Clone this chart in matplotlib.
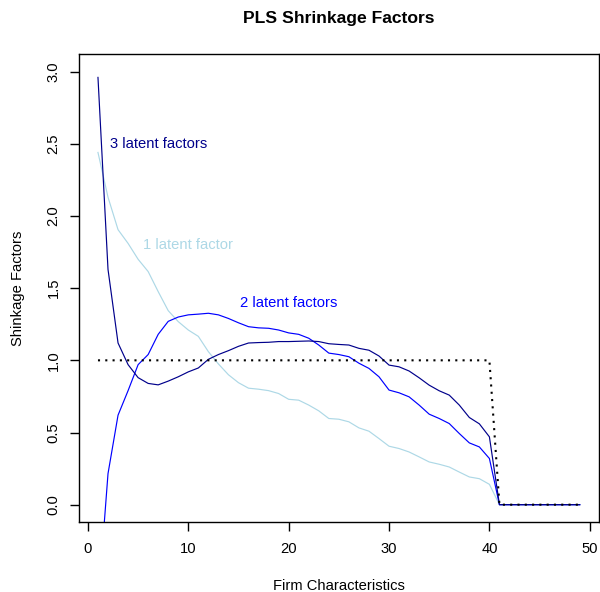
import numpy as np
import matplotlib
matplotlib.use("Agg")
import matplotlib.pyplot as plt

plt.rcParams["font.family"] = ["Liberation Sans", "DejaVu Sans"]

# ---- data ----
firm_chars = np.arange(1, 50)

one_factor = [2.44, 2.13, 1.905, 1.81, 1.70, 1.615, 1.476, 1.344, 1.268, 1.21,
              1.166, 1.06, 0.975, 0.90, 0.845, 0.807, 0.80, 0.79, 0.77, 0.73,
              0.724, 0.69, 0.65, 0.597, 0.592, 0.574, 0.532, 0.509, 0.458, 0.405,
              0.389, 0.365, 0.331, 0.296, 0.28, 0.261, 0.226, 0.192, 0.18, 0.141,
              0, 0, 0, 0, 0, 0, 0, 0, 0]

two_factors = [-0.70, 0.215, 0.62, 0.79, 0.97, 1.04, 1.18, 1.27, 1.30, 1.315,
               1.32, 1.326, 1.315, 1.29, 1.26, 1.233, 1.225, 1.222, 1.21, 1.19,
               1.18, 1.153, 1.106, 1.05, 1.04, 1.025, 0.98, 0.944, 0.886, 0.794,
               0.775, 0.747, 0.69, 0.627, 0.597, 0.562, 0.493, 0.428, 0.40, 0.32,
               0, 0, 0, 0, 0, 0, 0, 0, 0]

three_factors = [2.96, 1.63, 1.12, 0.97, 0.88, 0.84, 0.83, 0.856, 0.886, 0.92,
                 0.947, 1.007, 1.04, 1.067, 1.097, 1.12, 1.123, 1.125, 1.13, 1.13,
                 1.132, 1.134, 1.13, 1.115, 1.11, 1.106, 1.083, 1.07, 1.03, 0.967,
                 0.955, 0.926, 0.879, 0.828, 0.789, 0.759, 0.69, 0.604, 0.56, 0.47,
                 0, 0, 0, 0, 0, 0, 0, 0, 0]

# OLS benchmark (no shrinkage for kept characteristics)
benchmark = [1, 1, 1, 1, 1, 1, 1, 1, 1, 1, 1, 1, 1, 1, 1, 1, 1, 1, 1, 1,
             1, 1, 1, 1, 1, 1, 1, 1, 1, 1, 1, 1, 1, 1, 1, 1, 1, 1, 1, 1,
             0, 0, 0, 0, 0, 0, 0, 0, 0]

x_ticks = [0, 10, 20, 30, 40, 50]
y_ticks = [0.0, 0.5, 1.0, 1.5, 2.0, 2.5, 3.0]
y_tick_labels = ["0.0", "0.5", "1.0", "1.5", "2.0", "2.5", "3.0"]

W, H = 600, 592
fig = plt.figure(figsize=(W / 100, H / 100), dpi=100)
ax = fig.add_axes([78.7 / W, 70 / H, 520.3 / W, 467.7 / H])

lw = 0.85
ax.plot(firm_chars, one_factor, color="lightblue", lw=lw)
ax.plot(firm_chars, two_factors, color="blue", lw=lw)
ax.plot(firm_chars, three_factors, color="darkblue", lw=lw)
ax.plot(firm_chars, benchmark, color="black", lw=1.5, linestyle=(0, (1, 2.5)))

fs = 10.6
ax.text(7, 2.5, "3 latent factors", color="darkblue", fontsize=fs, ha="center", va="center")
ax.text(10, 1.8, "1 latent factor", color="lightblue", fontsize=fs, ha="center", va="center")
ax.text(20, 1.4, "2 latent factors", color="blue", fontsize=fs, ha="center", va="center")

ax.set_xlim(-0.92, 50.92)
ax.set_ylim(-0.12, 3.12)
ax.set_xticks(x_ticks)
ax.set_yticks(y_ticks)
ax.set_yticklabels(y_tick_labels)
ax.tick_params(axis="both", direction="out", length=6.8, width=1.0, labelsize=fs, color="black")
ax.tick_params(axis="x", pad=7.6)
ax.tick_params(axis="y", pad=6.3)
plt.setp(ax.get_yticklabels(), rotation=90, va="center")
for s in ax.spines.values():
    s.set_linewidth(1.0)

fig.text(339 / W, 1 - 18 / H, "PLS Shrinkage Factors", fontsize=12.6, fontweight="bold",
         ha="center", va="center")
fig.text(339 / W, 1 - 586 / H, "Firm Characteristics", fontsize=fs, ha="center", va="center")
fig.text(18 / W, 1 - 288 / H, "Shinkage Factors", fontsize=fs, rotation=90, ha="center", va="center")

fig.savefig("out.png", dpi=100)
